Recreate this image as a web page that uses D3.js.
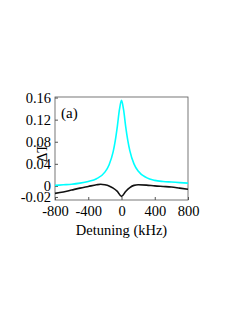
<!DOCTYPE html>
<html>
<head>
<meta charset="utf-8">
<script src="https://cdn.jsdelivr.net/npm/d3@7"></script>
<style>
  body { margin: 0; background: #fff; }
  text { font-family: "Liberation Serif", "DejaVu Serif", serif; }
</style>
</head>
<body>
<div id="chart"></div>
<script>
// detuning in kHz
const cyanX = [-800, -700, -600, -500, -400, -300, -200, -150, -100, -75, -50, -25, 0, 25, 50, 75, 100, 150, 200, 300, 400, 500, 600, 700, 800];
const cyanY = [0.001, 0.002, 0.003, 0.005, 0.008, 0.013, 0.025, 0.038, 0.062, 0.082, 0.108, 0.138, 0.155, 0.138, 0.108, 0.083, 0.064, 0.040, 0.027, 0.015, 0.010, 0.008, 0.007, 0.006, 0.005];
const blackX = [-800, -700, -600, -500, -400, -300, -250, -200, -150, -100, -50, 0, 50, 100, 150, 200, 300, 400, 500, 600, 700, 800];
const blackY = [-0.0135, -0.011, -0.0075, -0.004, -0.001, 0.002, 0.003, 0.002, 0.0, -0.004, -0.010, -0.019, -0.010, -0.003, 0.001, 0.002, 0.0015, 0.0, -0.001, -0.002, -0.004, -0.006];
const xTicks = [-800, -400, 0, 400, 800];
const yTicks = [-0.02, 0, 0.04, 0.08, 0.12, 0.16];

const width = 249, height = 323;
const margin = { left: 55, right: 61, top: 97, bottom: 123 };
const fontSize = 14.5;

const svg = d3.select("#chart").append("svg")
    .attr("width", width)
    .attr("height", height);

const x = d3.scaleLinear().domain([-800, 800]).range([margin.left, width - margin.right]);
const y = d3.scaleLinear().domain([-0.0255, 0.161]).range([height - margin.bottom, margin.top]);

// plain hyphen for negatives, like the original
const xFmt = d => String(d);
const yFmt = d => d === 0 ? "0" : d3.format(".2f")(d).replace("−", "-");

// axes with inward ticks
const xAxis = svg.append("g")
    .attr("transform", `translate(0,${height - margin.bottom})`)
    .call(d3.axisBottom(x).tickValues(xTicks).tickSize(-3).tickPadding(6).tickFormat(xFmt));
const yAxis = svg.append("g")
    .attr("transform", `translate(${margin.left},0)`)
    .call(d3.axisLeft(y).tickValues(yTicks).tickSize(-3).tickPadding(4).tickFormat(yFmt));

[xAxis, yAxis].forEach(g => {
    g.select(".domain").remove();
    g.selectAll(".tick line").attr("stroke", "#555");
    g.selectAll(".tick text").attr("fill", "#000").attr("font-size", fontSize)
        .attr("font-family", "Liberation Serif");
});
yAxis.selectAll(".tick text").attr("dy", "0.32em");

// frame
svg.append("rect")
    .attr("x", margin.left)
    .attr("y", margin.top)
    .attr("width", width - margin.left - margin.right)
    .attr("height", height - margin.top - margin.bottom)
    .attr("fill", "none")
    .attr("stroke", "#555")
    .attr("stroke-width", 0.8);

const line = d3.line()
    .x(d => x(d[0]))
    .y(d => y(d[1]))
    .curve(d3.curveMonotoneX);

svg.append("path")
    .datum(cyanX.map((v, i) => [v, cyanY[i]]))
    .attr("d", line)
    .attr("fill", "none")
    .attr("stroke", "#00ffff")
    .attr("stroke-width", 1.6);

svg.append("path")
    .datum(blackX.map((v, i) => [v, blackY[i]]))
    .attr("d", line)
    .attr("fill", "none")
    .attr("stroke", "#111")
    .attr("stroke-width", 1.6);

// labels
svg.append("text")
    .attr("x", 61)
    .attr("y", 118)
    .attr("font-size", 15)
    .text("(a)");

svg.append("text")
    .attr("transform", `translate(47,153) rotate(-90)`)
    .attr("text-anchor", "middle")
    .attr("font-size", fontSize)
    .text("ΔT");

svg.append("text")
    .attr("x", x(0))
    .attr("y", 235)
    .attr("text-anchor", "middle")
    .attr("font-size", fontSize)
    .text("Detuning (kHz)");
</script>
</body>
</html>
